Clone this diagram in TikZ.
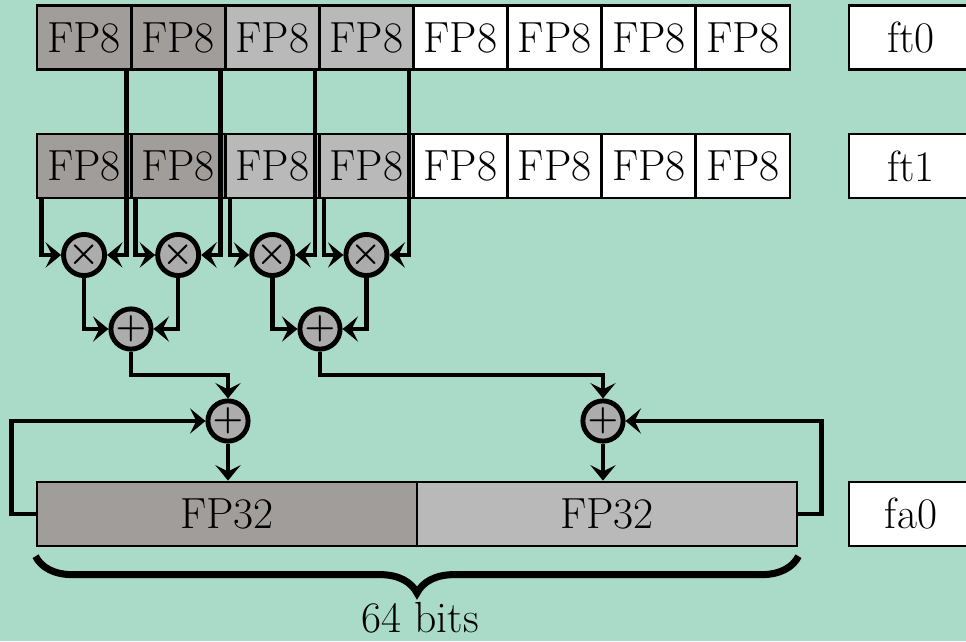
\documentclass[tikz,border=0pt]{standalone}
\usetikzlibrary{arrows.meta,calc,decorations.pathreplacing}
\definecolor{bgteal}{RGB}{170,219,200}
\definecolor{darkcell}{RGB}{161,157,155}
\definecolor{lightcell}{RGB}{185,185,185}
\definecolor{opgray}{RGB}{172,172,172}
\begin{document}
\begin{tikzpicture}[x=0.025cm,y=-0.025cm,font=\fontsize{31}{34}\selectfont,
  cell/.style={draw,line width=2pt,minimum width=2.353cm,minimum height=1.6cm,inner sep=0pt},
  wide/.style={cell,minimum width=9.5cm},
  regname/.style={cell,fill=white,minimum width=3.1cm},
  op/.style={circle,draw,line width=3.5pt,fill=opgray,minimum size=1cm,inner sep=0pt,font=\fontsize{27}{27}\selectfont\boldmath},
  link/.style={line width=3.2pt,-{Stealth[length=11pt,width=18pt,inset=4.5pt]}}]
 \fill[bgteal] (0,0) rectangle (966,641);
 \useasboundingbox (0,0) rectangle (966,641);
 \foreach \i/\c in {1/darkcell,2/darkcell,3/lightcell,4/lightcell,5/white,6/white,7/white,8/white}{
  \node[cell,fill=\c] (a\i) at ({37+94.125*(\i-0.5)},37.5) {FP8};
  \node[cell,fill=\c] (b\i) at ({37+94.125*(\i-0.5)},166) {FP8};
 }
 \node[regname] (ft0) at (911,37.5) {ft0};
 \node[regname] (ft1) at (911,166) {ft1};
 \foreach \i in {1,...,4}
  \node[op] (m\i) at ({37+94.125*(\i-0.5)},255) {$\times$};
 \node[op] (p1) at (131,329) {$+$};
 \node[op] (p2) at (320,329) {$+$};
 \node[op] (s1) at (228,421) {$+$};
 \node[op] (s2) at (603,421) {$+$};
 \node[wide,fill=darkcell] (r1) at (227,514) {FP32};
 \node[wide,fill=lightcell] (r2) at (607,514) {FP32};
 \node[regname] (fa0) at (911,514) {fa0};
 \foreach \i in {1,...,4}{
  \draw[link] ([xshift=0.15cm]b\i.south west) |- (m\i.west);
  \draw[link] ([xshift=-0.15cm]a\i.south east) |- (m\i.east);
 }
 \draw[link] (m1.south) |- (p1.west);
 \draw[link] (m2.south) |- (p1.east);
 \draw[link] (m3.south) |- (p2.west);
 \draw[link] (m4.south) |- (p2.east);
 \draw[link] (p1.south) |- ($(p1)!0.5!(s1)$) -| (s1.north);
 \draw[link] (p2.south) |- ($(p2)!0.5!(s2)$) -| (s2.north);
 \draw[link] (s1.south) -- (s1 |- r1.north);
 \draw[link] (s2.south) -- (s2 |- r2.north);
 \draw[link] (r1.west) -- ++(-24,0) |- (s1.west);
 \draw[link] (r2.east) -- ++(23,0) |- (s2.east);
 \draw[line width=5pt,decorate,decoration={brace,mirror,amplitude=0.92cm}]
  ([yshift=-0.22cm]r1.south west) -- ([yshift=-0.22cm]r2.south east);
 \node (bits) at (420,618) {64 bits};
\end{tikzpicture}
\end{document}
